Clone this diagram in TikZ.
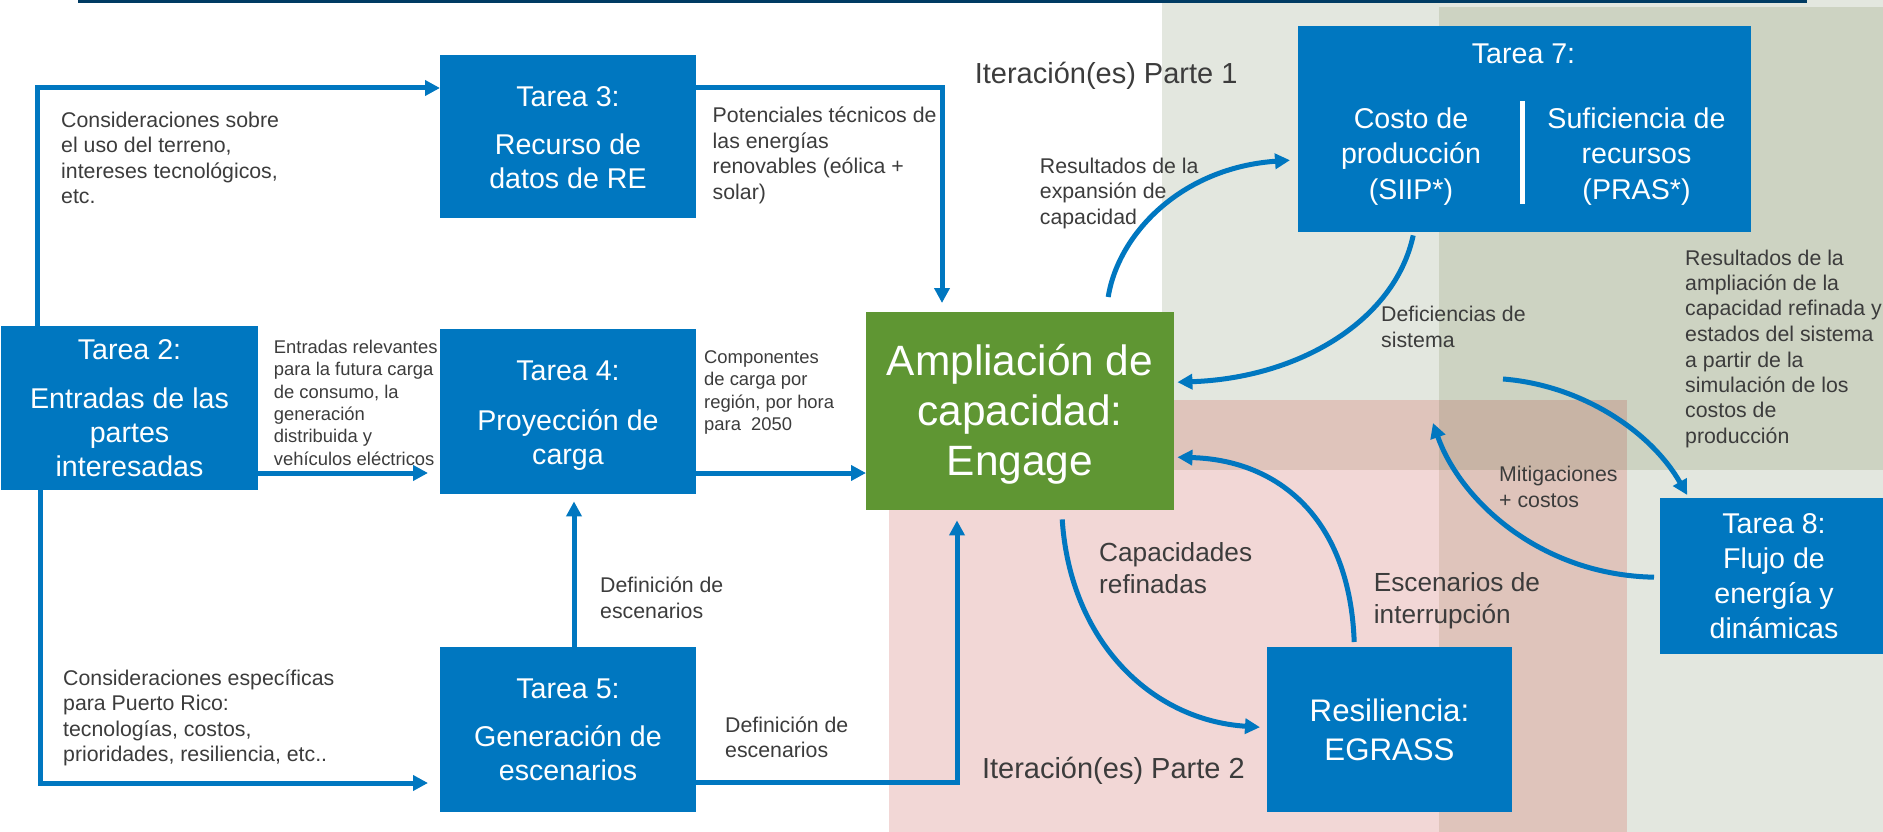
\documentclass[tikz,border=0pt]{standalone}
\usepackage{fontspec}
\setmainfont{Liberation Sans}
\usetikzlibrary{arrows.meta}
\definecolor{tblue}{RGB}{0,119,192}
\definecolor{tgreen}{RGB}{95,150,51}
\definecolor{navy}{RGB}{0,59,99}
\definecolor{lgreen}{RGB}{227,231,223}
\definecolor{dgreen}{RGB}{205,211,194}
\definecolor{lpink}{RGB}{242,215,214}
\definecolor{mpink}{RGB}{223,196,187}
\definecolor{dpink}{RGB}{200,180,165}
\definecolor{txtgrey}{RGB}{60,60,60}
\newcommand{\mytab}[2]{\begin{tabular}[t]{@{}#1@{}}#2\end{tabular}}
\begin{document}
\begin{tikzpicture}[x=1pt,y=-1pt,
  box/.style={fill=tblue, draw=none, inner sep=0pt, anchor=north west},
  gbox/.style={fill=tgreen, draw=none, inner sep=0pt, anchor=north west},
  conn/.style={draw=tblue, line width=5pt, -{Triangle[length=15pt,width=15pt]}},
  btext/.style={text=white, inner sep=0pt, anchor=base, font=\fontsize{28.6}{34}\selectfont},
  lbl/.style={text=txtgrey, inner sep=0pt, anchor=base west},
  fa/.style={font=\fontsize{21.3}{25.5}\selectfont},
  fb/.style={font=\fontsize{18.4}{22.4}\selectfont},
  fc/.style={font=\fontsize{26.2}{31.3}\selectfont},
  fd/.style={font=\fontsize{29}{35}\selectfont}]
\useasboundingbox (0,0) rectangle (1883,832);
\fill[white] (0,0) rectangle (1883,832);
% backgrounds
\fill[lgreen] (1162,0) rectangle (1883,470);
\fill[lgreen] (1439,7) rectangle (1883,832);
\fill[dgreen] (1439,7) rectangle (1883,470);
\fill[lpink] (889,400) rectangle (1627,832);
\fill[mpink] (1162,400) rectangle (1627,470);
\fill[mpink] (1439,400) rectangle (1627,832);
\fill[dpink] (1439,400) rectangle (1627,470);
\fill[navy] (78,0) rectangle (1807,3.5);
% boxes
\node[box, minimum width=257pt, minimum height=164pt] (t2) at (1,326) {};
\node[box, minimum width=256pt, minimum height=163pt] (t3) at (440,55) {};
\node[box, minimum width=256pt, minimum height=165pt] (t4) at (440,329) {};
\node[box, minimum width=256pt, minimum height=165pt] (t5) at (440,647) {};
\node[gbox, minimum width=308pt, minimum height=198pt] (eng) at (866,312) {};
\node[box, minimum width=453pt, minimum height=206pt] (t7) at (1298,26) {};
\node[box, minimum width=228pt, minimum height=156pt] (t8) at (1660,498) {};
\node[box, minimum width=245pt, minimum height=165pt] (egr) at (1267,647) {};
\draw[white, line width=5pt] ([xshift=-2.5pt,yshift=-75pt]t7.north) -- ([xshift=-2.5pt,yshift=-178pt]t7.north);
% straight connectors
\coordinate (k1) at (37,88);
\coordinate (k2) at (0,473);
\coordinate (k3) at (40,783);
\coordinate (k4) at (942,88);
\coordinate (k6) at (574,0);
\coordinate (k7) at (957,782);
\draw[conn] (t2.north -| k1) -- (k1) -- (k1 -| t3.west);
\draw[conn, shorten >=12pt] (t2.east |- k2) -- (t4.west |- k2);
\draw[conn, shorten >=12pt] (t2.south -| k3) -- (k3) -- (k3 -| t5.west);
\draw[conn, shorten >=9pt] (t3.east |- k4) -- (k4) -- (k4 |- eng.north);
\draw[conn] (t4.east |- k2) -- (eng.west |- k2);
\draw[conn, shorten >=7pt] (t5.north -| k6) -- (t4.south -| k6);
\draw[conn, shorten >=10pt] (t5.east |- k7) -- (k7) -- (k7 |- eng.south);
% curved connectors
\coordinate (r12) at (1503,379);
\coordinate (m13) at (1433,423);
\draw[conn] ([xshift=88pt,yshift=15pt]eng.north) .. controls (1118,235) and (1180,168) .. ([xshift=-8pt,yshift=-31pt]t7.west);
\draw[conn] ([xshift=-111.5pt,yshift=-3pt]t7.south) .. controls (1395,320) and (1300,378) .. ([xshift=3pt,yshift=29pt]eng.east);
\draw[conn] ([xshift=42pt,yshift=-9pt]eng.south) .. controls (1070,640) and (1150,720) .. ([xshift=-7pt,yshift=2.5pt]egr.west);
\draw[conn] ([xshift=-35.5pt,yshift=5pt]egr.north) .. controls (1350,520) and (1280,460) .. ([xshift=3pt,yshift=-46pt]eng.east);
\draw[conn] (r12) .. controls (1580,385) and (1650,430) .. ([xshift=-87pt,yshift=3pt]t8.north);
\draw[conn] ([xshift=-6pt,yshift=-1pt]t8.west) .. controls (1540,575) and (1460,500) .. (m13);
% box texts
\node[btext] (t2txt) at (129.5,359.3) {\mytab{c}{Tarea 2:\\[15pt]Entradas de las\\partes\\interesadas}};
\node[btext] (t3txt) at (568,106.7) {\mytab{c}{Tarea 3:\\[14pt]Recurso de\\datos de RE}};
\node[btext] (t4txt) at (568,380) {\mytab{c}{Tarea 4:\\[16pt]Proyección de\\carga}};
\node[btext] (t5txt) at (568,698.3) {\mytab{c}{Tarea 5:\\[14pt]Generación de\\escenarios}};
\node[btext, font=\fontsize{42.4}{50}\selectfont] (engtxt) at (1020,375.3) {\mytab{c}{Ampliación de\\capacidad:\\Engage}};
\node[btext] (t7txt) at (1523.5,63.3) {Tarea 7:};
\node[btext, font=\fontsize{28.6}{35.5}\selectfont] (t7a) at (1411,128.3) {\mytab{c}{Costo de\\producción\\(SIIP*)}};
\node[btext, font=\fontsize{28.6}{35.5}\selectfont] (t7b) at (1636.5,128.3) {\mytab{c}{Suficiencia de\\recursos\\(PRAS*)}};
\node[btext, font=\fontsize{28.6}{35}\selectfont] (t8txt) at (1774,533.3) {\mytab{c}{Tarea 8:\\Flujo de\\energía y\\dinámicas}};
\node[btext, font=\fontsize{31.2}{38.3}\selectfont] (egrtxt) at (1389.5,721.7) {\mytab{c}{Resiliencia:\\EGRASS}};
% labels
\node[lbl, fa] (l1) at (61,127.3) {\mytab{l}{Consideraciones sobre\\el uso del terreno,\\intereses tecnológicos,\\etc.}};
\node[lbl, fa] (l2) at (712.5,122.7) {\mytab{l}{Potenciales técnicos de\\las energías\\renovables (eólica +\\solar)}};
\node[lbl, fd] (l3) at (974.6,83.3) {Iteración(es) Parte 1};
\node[lbl, fa] (l4) at (1039.7,173.3) {\mytab{l}{Resultados de la\\expansión de\\capacidad}};
\node[lbl, fa] (l5) at (1381,321.7) {\mytab{l}{Deficiencias de\\sistema}};
\node[lbl, fa] (l6) at (1685,265) {\mytab{l}{Resultados de la\\ampliación de la\\capacidad refinada y\\estados del sistema\\a partir de la\\simulación de los\\costos de\\producción}};
\node[lbl, fa] (l7) at (1499,481.7) {\mytab{l}{Mitigaciones\\+ costos}};
\node[lbl, fc] (l8) at (1373.7,591.7) {\mytab{l}{Escenarios de\\interrupción}};
\node[lbl, fc] (l9) at (1099,561.7) {\mytab{l}{Capacidades\\refinadas}};
\node[lbl, fd] (l10) at (981.8,778.3) {Iteración(es) Parte 2};
\node[lbl, fb] (l11) at (273.7,353.3) {\mytab{l}{Entradas relevantes\\para la futura carga\\de consumo, la\\generación\\distribuida y\\vehículos eléctricos}};
\node[lbl, fb] (l12) at (704,363.3) {\mytab{l}{Componentes\\de carga por\\región, por hora\\para\ \ 2050}};
\node[lbl, fa] (l13) at (600,592.7) {\mytab{l}{Definición de\\escenarios}};
\node[lbl, fa] (l14) at (63,685) {\mytab{l}{Consideraciones específicas\\para Puerto Rico:\\tecnologías, costos,\\prioridades, resiliencia, etc..}};
\node[lbl, fa] (l15) at (725,732.3) {\mytab{l}{Definición de\\escenarios}};
\end{tikzpicture}
\end{document}
